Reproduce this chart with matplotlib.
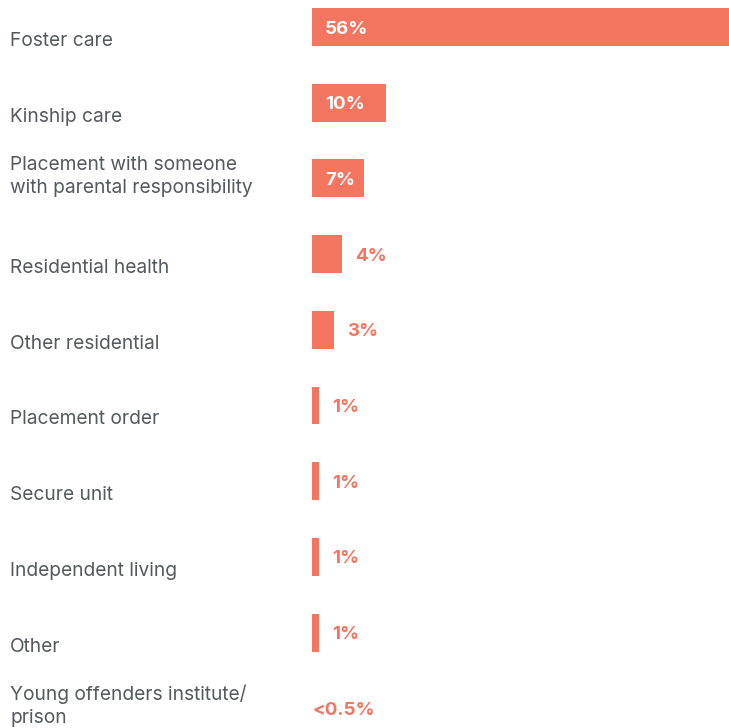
import matplotlib.pyplot as plt
from matplotlib.transforms import offset_copy

# Share of placements by type
categories = [
    "Foster care",
    "Kinship care",
    "Placement with someone\nwith parental responsibility",
    "Residential health",
    "Other residential",
    "Placement order",
    "Secure unit",
    "Independent living",
    "Other",
    "Young offenders institute/\nprison",
]
values = [56, 10, 7, 4, 3, 1, 1, 1, 1, 0]
value_labels = ["56%", "10%", "7%", "4%", "3%", "1%", "1%", "1%", "1%", "<0.5%"]

bar_color = "#F47560"
text_color = "#55595E"
plt.rcParams["font.family"] = ["Inter", "DejaVu Sans"]

W, H = 729, 728
fig = plt.figure(figsize=(W / 100, H / 100), dpi=100)
row = 75.7
top_pad = 27
ax = fig.add_axes([312 / W, 0, 1 - 312 / W, 1])
ax.set_xlim(0, 56)
ax.set_ylim((H - top_pad) / row, -top_pad / row)
ax.axis("off")

ypos = list(range(len(categories)))
ax.barh(ypos, values, height=0.5, color=bar_color)

for y, v, lab, cat in zip(ypos, values, value_labels, categories):
    # category name sits on the bottom edge of its bar, two-line ones a bit higher
    lift = 4 if "\n" in cat else 0
    ax.annotate(cat, xy=(10, y + 0.25), xycoords=("figure pixels", "data"),
                xytext=(0, lift * 0.72), textcoords="offset points",
                ha="left", va="baseline", fontsize=13.8, color=text_color,
                linespacing=1.4, annotation_clip=False)
    if v >= 5:
        t = offset_copy(ax.transData, fig=fig, x=13, y=-2, units="dots")
        ax.text(0, y, lab, transform=t, ha="left", va="center",
                fontsize=13.5, fontweight="bold", color="white")
    else:
        dx = 13 if v > 0 else 0
        t = offset_copy(ax.transData, fig=fig, x=dx, y=-2, units="dots")
        ax.text(v, y, lab, transform=t, ha="left", va="center",
                fontsize=13.5, fontweight="bold", color=bar_color)

fig.savefig("out.png", dpi=100)
